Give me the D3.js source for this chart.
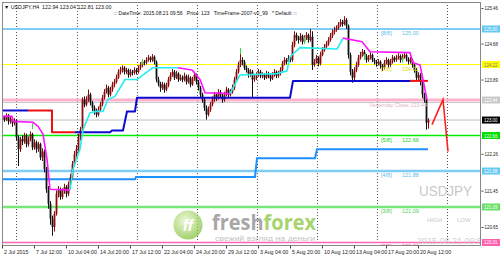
<!DOCTYPE html>
<html>
<head>
<meta charset="utf-8">
<title>USDJPY,H4</title>
<style>
  body{margin:0;background:#fff;}
  svg{display:block;font-family:"Liberation Sans",Arial,sans-serif;}
</style>
</head>
<body>
<svg id="chart" width="500" height="258"></svg>
<script src="https://d3js.org/d3.v7.min.js"></script>
<script>
// H4 bars, 2 Jul 2015 20:00 .. 21 Aug 2015 08:00
var opens = [
123.00,123.06,123.01,123.10,122.97,123.03,122.93,122.99,122.62,122.36,
122.58,122.53,122.66,122.47,122.58,122.69,122.40,122.51,122.36,122.47,
122.18,122.31,121.92,121.48,121.16,120.83,120.65,120.94,121.38,121.48,
121.31,121.44,121.53,121.38,121.59,121.75,122.03,122.25,122.36,122.62,
122.79,123.45,123.34,123.45,123.56,123.38,123.27,123.19,123.12,123.23,
123.34,123.49,123.62,123.71,123.56,123.67,123.78,123.84,123.93,124.06,
124.10,124.15,124.06,124.10,123.99,124.06,124.04,124.10,124.06,124.15,
124.21,124.28,124.26,124.32,124.37,124.32,124.39,124.28,123.89,123.80,
123.71,123.78,123.67,123.76,123.89,123.99,124.06,123.93,124.02,123.89,
123.93,123.89,123.97,123.84,123.93,123.78,123.89,123.99,123.84,123.71,
123.56,123.45,123.27,123.12,123.23,123.34,123.45,123.56,123.49,123.62,
123.54,123.45,123.56,123.67,123.56,123.62,123.71,123.89,124.06,124.21,
124.32,124.28,124.15,124.10,123.99,124.06,123.89,123.93,123.99,124.06,
123.97,123.99,123.93,124.02,123.97,123.91,123.99,124.06,123.97,124.02,
124.10,124.24,124.32,124.28,124.37,124.32,124.65,124.87,124.80,124.76,
124.85,124.72,124.80,124.87,124.76,124.83,124.21,124.28,124.37,124.24,
124.43,124.54,124.61,124.67,124.76,124.85,124.93,124.98,125.02,125.09,
125.15,125.11,125.20,125.07,124.43,124.06,123.93,124.10,124.21,124.37,
124.43,124.50,124.41,124.32,124.37,124.43,124.32,124.28,124.24,124.28,
124.19,124.15,124.26,124.32,124.21,124.28,124.37,124.32,124.37,124.41,
124.32,124.39,124.43,124.35,124.28,124.32,124.21,124.10,123.93,123.99,
123.84,123.56,123.45,122.94];
var highs = [
123.12,123.10,123.15,123.13,123.08,123.06,123.04,123.02,122.66,122.63,
122.66,122.72,122.70,122.64,122.75,122.72,122.58,122.55,122.52,122.50,
122.38,122.35,121.97,121.55,121.22,120.90,121.00,121.45,121.55,121.52,
121.50,121.60,121.57,121.65,121.82,122.10,122.32,122.45,122.70,122.85,
123.50,123.52,123.52,123.67,123.60,123.42,123.32,123.25,123.30,123.40,
123.55,123.68,123.78,123.75,123.73,123.84,123.90,124.00,124.12,124.17,
124.20,124.18,124.15,124.13,124.12,124.10,124.16,124.14,124.20,124.27,
124.33,124.32,124.38,124.43,124.40,124.45,124.42,124.31,123.95,123.84,
123.84,123.82,123.82,123.95,124.05,124.12,124.10,124.08,124.05,124.00,
123.98,124.04,124.00,124.00,123.96,123.95,124.06,124.02,123.88,123.75,
123.60,123.50,123.32,123.30,123.40,123.52,123.62,123.60,123.68,123.66,
123.58,123.62,123.73,123.70,123.68,123.78,123.95,124.12,124.28,124.54,
124.38,124.32,124.20,124.14,124.12,124.10,124.00,124.05,124.12,124.10,
124.05,124.03,124.08,124.06,124.01,124.05,124.12,124.09,124.08,124.16,
124.30,124.38,124.36,124.43,124.40,124.72,124.95,124.92,124.85,124.91,
124.88,124.86,124.93,124.90,125.00,124.95,124.34,124.43,124.40,124.50,
124.60,124.67,124.73,124.82,124.91,124.99,125.05,125.08,125.15,125.22,
125.20,125.28,125.24,125.10,124.48,124.12,124.16,124.28,124.43,124.50,
124.56,124.54,124.45,124.43,124.49,124.46,124.36,124.32,124.34,124.31,
124.23,124.32,124.38,124.35,124.34,124.43,124.40,124.43,124.47,124.44,
124.45,124.49,124.46,124.38,124.38,124.35,124.25,124.14,124.05,124.03,
123.88,123.60,123.48,123.04];
var lows = [
122.95,122.96,122.98,122.90,122.92,122.85,122.88,122.55,121.99,122.30,
122.45,122.48,122.40,122.42,122.53,122.34,122.35,122.28,122.30,122.12,
122.10,121.85,121.40,121.05,120.70,120.46,120.55,120.90,121.30,121.25,
121.26,121.38,121.30,121.33,121.55,121.70,121.98,122.18,122.30,122.55,
122.72,123.28,123.30,123.40,123.32,123.20,123.12,123.06,123.08,123.18,
123.30,123.45,123.58,123.50,123.52,123.62,123.72,123.80,123.90,124.00,
124.04,124.00,124.01,123.93,123.95,123.98,124.00,124.00,124.02,124.10,
124.16,124.20,124.22,124.28,124.27,124.28,124.22,123.83,123.74,123.62,
123.66,123.60,123.63,123.72,123.85,123.95,123.88,123.90,123.84,123.86,
123.83,123.85,123.78,123.80,123.72,123.75,123.86,123.78,123.65,123.50,
123.38,123.20,123.01,123.08,123.18,123.30,123.40,123.42,123.45,123.48,
123.38,123.40,123.52,123.50,123.52,123.58,123.66,123.85,124.02,124.16,
124.20,124.10,124.04,123.93,123.95,123.49,123.84,123.88,123.95,123.92,
123.92,123.88,123.90,123.92,123.85,123.88,123.95,123.92,123.93,123.98,
124.06,124.20,124.22,124.25,124.27,124.28,124.60,124.74,124.68,124.72,
124.66,124.68,124.76,124.70,124.72,124.10,124.17,124.24,124.18,124.20,
124.40,124.50,124.57,124.63,124.72,124.80,124.88,124.94,124.98,125.05,
125.05,125.08,125.00,124.35,123.98,123.82,123.88,124.05,124.17,124.33,
124.39,124.36,124.26,124.28,124.33,124.27,124.22,124.17,124.20,124.13,
124.08,124.11,124.22,124.15,124.17,124.24,124.27,124.28,124.33,124.26,
124.28,124.35,124.29,124.22,124.24,124.15,124.04,123.87,123.88,123.76,
123.48,123.38,122.79,122.81];
var closes = [
123.06,123.01,123.10,122.97,123.03,122.93,122.99,122.62,122.36,122.58,
122.53,122.66,122.47,122.58,122.69,122.40,122.51,122.36,122.47,122.18,
122.31,121.92,121.48,121.16,120.83,120.65,120.94,121.38,121.48,121.31,
121.44,121.53,121.38,121.59,121.75,122.03,122.25,122.36,122.62,122.79,
123.45,123.34,123.45,123.56,123.38,123.27,123.19,123.12,123.23,123.34,
123.49,123.62,123.71,123.56,123.67,123.78,123.84,123.93,124.06,124.10,
124.15,124.06,124.10,123.99,124.06,124.04,124.10,124.06,124.15,124.21,
124.28,124.26,124.32,124.37,124.32,124.39,124.28,123.89,123.80,123.71,
123.78,123.67,123.76,123.89,123.99,124.06,123.93,124.02,123.89,123.93,
123.89,123.97,123.84,123.93,123.78,123.89,123.99,123.84,123.71,123.56,
123.45,123.27,123.12,123.23,123.34,123.45,123.56,123.49,123.62,123.54,
123.45,123.56,123.67,123.56,123.62,123.71,123.89,124.06,124.21,124.32,
124.28,124.15,124.10,123.99,124.06,123.89,123.93,123.99,124.06,123.97,
123.99,123.93,124.02,123.97,123.91,123.99,124.06,123.97,124.02,124.10,
124.24,124.32,124.28,124.37,124.32,124.65,124.87,124.80,124.76,124.85,
124.72,124.80,124.87,124.76,124.83,124.21,124.28,124.37,124.24,124.43,
124.54,124.61,124.67,124.76,124.85,124.93,124.98,125.02,125.09,125.15,
125.11,125.20,125.07,124.43,124.06,123.93,124.10,124.21,124.37,124.43,
124.50,124.41,124.32,124.37,124.43,124.32,124.28,124.24,124.28,124.19,
124.15,124.26,124.32,124.21,124.28,124.37,124.32,124.37,124.41,124.32,
124.39,124.43,124.35,124.28,124.32,124.21,124.10,123.93,123.99,123.84,
123.56,123.45,122.94,123.00];

var dateBars = [0,16,32,48,64,80,96,112,128,144,160,176,192,208];
var dateLabels = ["2 Jul 2015","7 Jul 12:00","10 Jul 04:00","14 Jul 20:00","17 Jul 12:00","22 Jul 04:00",
  "24 Jul 20:00","29 Jul 12:00","3 Aug 04:00","5 Aug 20:00","10 Aug 12:00","13 Aug 04:00","17 Aug 20:00","20 Aug 12:00"];
var gridBars = [7,37.5,67.5,97.5,127.5,157.5,187.5];
var nowBar = 222.5;
var priceTicks = [125.46,124.68,123.89,122.26,121.45,120.65];

var murreyNames = ["[8/8]","[7/8]","[6/8]","[5/8]","[4/8]","[3/8]","[2/8]"];
var murreyLevels = [125.00,124.22,123.44,122.66,121.88,121.09,120.31];
var lastPrice = 123.00;
var yesterdayClose = 123.44;

// trailing stop line (u = blue, d = red)
var trailBars = [0,13,25,25,36.5,54,55,60.5,62.5,66.5,67.5,144,145.5,204,213];
var trailPrices = [123.21,123.21,123.21,122.73,122.73,122.73,122.77,122.77,123.19,123.19,123.49,123.49,123.86,123.86,123.86];
var trailTrend = "uddduuuuuuuuud";

// fast trend line (u = aqua, d = magenta)
var stopBars = [0.5,5,5.5,15.5,18,20.5,22.5,24,34,35.5,39,40.5,44,47.5,50.5,53,56.5,61.5,67.5,70.5,75.5,88,
  95,99,101.5,114,119,137.5,142.5,144,149,167.5,170.5,180,184,204,205.5,209,212.5];
var stopPrices = [123.08,123.08,122.97,122.95,122.86,122.69,122.14,121.48,121.46,121.92,122.36,122.79,123.16,123.19,
  123.19,123.45,123.52,123.89,123.89,123.99,124.15,124.15,124.10,123.89,123.60,123.58,123.99,124.02,124.08,124.39,
  124.59,124.56,124.80,124.72,124.50,124.48,124.26,124.21,123.45];
var stopTrend = "dddddddduuuuuuuuuuuuudddduuuuuuudddddd";

// lower band
var bandBars = [0.5,66.5,67,126.5,127.5,156.5,157.5,213];
var bandPrices = [121.70,121.70,121.75,121.75,122.16,122.16,122.36,122.36];

// projection
var fcBars = [215,220.5,223];
var fcPrices = [122.90,123.45,122.31];

// signal ticks
var sigBars = [15,70,119,151,181,200];
var sigHigh = [122.93,124.32,124.58,124.82,124.45,124.37];
var sigLow = [122.80,124.22,124.45,124.68,124.32,124.26];

// ---------------------------------------------------------------
var svg = d3.select("#chart");
var L = 2, R = 481, T = 2, B = 245;
var x = d3.scaleLinear().domain([0, 240]).range([2, 482]);
var y = d3.scaleLinear().domain([125.637, 120.255]).range([0, 245]);

var murreyColor = ["#7fcdf5","#ffff00","#ffb3cc","#00ee00","#7fcdf5","#77e877","#ff66b3"];
var murreyWidth = [2,1,3,1.5,2.5,2.5,1.5];
var murreyText = ["#5fbde8","#e0d800","#e8a0bb","#22cc22","#5fbde8","#55cc55","#ff55aa"];

svg.append("defs").append("clipPath").attr("id","plot")
  .append("rect").attr("x",L).attr("y",T).attr("width",R-L).attr("height",B-T);

var g = svg.append("g").attr("clip-path","url(#plot)");

// vertical grid
g.selectAll(".grid").data(gridBars.concat([nowBar])).enter().append("line")
  .attr("x1",function(d){return Math.round(x(d))+0.5}).attr("x2",function(d){return Math.round(x(d))+0.5})
  .attr("y1",T).attr("y2",B)
  .attr("stroke","#555").attr("stroke-width",1).attr("stroke-dasharray","1,2");

// murrey levels
g.selectAll(".mm").data(murreyLevels).enter().append("line")
  .attr("x1",L).attr("x2",R).attr("y1",function(d){return y(d)}).attr("y2",function(d){return y(d)})
  .attr("stroke",function(d,i){return murreyColor[i]})
  .attr("stroke-width",function(d,i){return murreyWidth[i]});

g.append("line").attr("x1",L).attr("x2",R).attr("y1",y(yesterdayClose)+2.5).attr("y2",y(yesterdayClose)+2.5)
  .attr("stroke","#c8ccd4").attr("stroke-width",1);
g.append("line").attr("x1",L).attr("x2",R).attr("y1",y(lastPrice)).attr("y2",y(lastPrice))
  .attr("stroke","#b8c0cc").attr("stroke-width",1);

// logo watermark
var grad = svg.select("defs").append("radialGradient").attr("id","ball").attr("cx","40%").attr("cy","35%").attr("r","70%");
grad.append("stop").attr("offset","0%").attr("stop-color","#e4f5c4");
grad.append("stop").attr("offset","100%").attr("stop-color","#7fbf3a");
var logo = g.append("g").attr("opacity",0.75);
logo.append("circle").attr("cx",188).attr("cy",225).attr("r",14.5).attr("fill","url(#ball)");
logo.append("text").attr("x",188).attr("y",231).attr("text-anchor","middle")
  .attr("font-size",16).attr("font-weight","bold").attr("font-style","italic").attr("fill","#fff").text("ff");
var ff = logo.append("text").attr("x",212).attr("y",230).attr("font-size",21).attr("font-weight","bold")
  .attr("font-family","'Open Sans','Liberation Sans',sans-serif").attr("textLength",104).attr("lengthAdjust","spacingAndGlyphs");
ff.append("tspan").attr("fill","#8a8a8a").text("fresh");
ff.append("tspan").attr("fill","#8cc63f").text("forex");
logo.append("text").attr("x",215).attr("y",241).attr("font-size",8).attr("fill","#b0b0b0")
  .attr("textLength",100).attr("lengthAdjust","spacingAndGlyphs").text("свежий взгляд на деньги");

// watermark texts
g.append("text").attr("x",419).attr("y",196).attr("font-size",14).attr("fill","#c8c8c8")
  .attr("textLength",53).attr("lengthAdjust","spacingAndGlyphs").text("USDJPY");
g.append("text").attr("x",427).attr("y",222).attr("font-size",6).attr("fill","#c8c8c8").text("HIGH");
g.append("text").attr("x",457).attr("y",222).attr("font-size",6).attr("fill","#c8c8c8").text("LOW");
g.append("text").attr("x",417).attr("y",243.5).attr("font-size",9.5).attr("fill","#d0d0d0")
  .attr("textLength",70).attr("lengthAdjust","spacingAndGlyphs").text("2015.08.21 09:56");

// lower band
g.append("path").datum(bandBars).attr("fill","none").attr("stroke","#1e90ff").attr("stroke-width",2)
  .attr("d",d3.line().x(function(d){return x(d)}).y(function(d,i){return y(bandPrices[i])}));

// candles
var idx = d3.range(closes.length);
var candle = g.selectAll(".c").data(idx).enter().append("g");
function cCol(i){ return closes[i] >= opens[i] ? "#8b0a0a" : "#111"; }
candle.append("line")
  .attr("x1",function(i){return x(i)+0.5}).attr("x2",function(i){return x(i)+0.5})
  .attr("y1",function(i){return y(highs[i])}).attr("y2",function(i){return y(lows[i])})
  .attr("stroke",cCol).attr("stroke-width",1);
candle.append("rect")
  .attr("x",function(i){return x(i)-0.4}).attr("width",1.8)
  .attr("y",function(i){return y(Math.max(opens[i],closes[i]))})
  .attr("height",function(i){return Math.max(0.8, Math.abs(y(opens[i])-y(closes[i])))})
  .attr("fill",cCol);

g.selectAll(".sig").data(sigBars).enter().append("line")
  .attr("x1",function(d){return x(d)+0.5}).attr("x2",function(d){return x(d)+0.5})
  .attr("y1",function(d,i){return y(sigHigh[i])}).attr("y2",function(d,i){return y(sigLow[i])})
  .attr("stroke","#33dd33").attr("stroke-width",1);

// segmented coloured lines
function drawRuns(bars, prices, trend, colors, width){
  var start = 0;
  for (var k = 1; k <= trend.length; k++){
    if (k === trend.length || trend[k] !== trend[start]){
      var pts = d3.range(start, k + 1);
      g.append("path").datum(pts).attr("fill","none")
        .attr("stroke",colors[trend[start]]).attr("stroke-width",width).attr("stroke-linejoin","round")
        .attr("d",d3.line().x(function(j){return x(bars[j])}).y(function(j){return y(prices[j])}));
      start = k;
    }
  }
}
drawRuns(trailBars, trailPrices, trailTrend, {u:"#0a0ad0", d:"#ee1111"}, 2);
drawRuns(stopBars, stopPrices, stopTrend, {u:"#22eeee", d:"#ff11ff"}, 1.6);

// projection
g.append("path").datum(fcBars).attr("fill","none").attr("stroke","#ff2020").attr("stroke-width",1.6)
  .attr("d",d3.line().x(function(d){return x(d)}).y(function(d,i){return y(fcPrices[i])}));

// murrey labels
var mmL = g.selectAll(".mml").data(murreyLevels).enter().append("g");
mmL.append("text").attr("x",381).attr("y",function(d){return y(d)+6})
  .attr("font-size",5.5).attr("fill",function(d,i){return murreyText[i]})
  .text(function(d,i){return i === 2 ? "" : murreyNames[i]});
mmL.append("text").attr("x",402).attr("y",function(d){return y(d)+6})
  .attr("font-size",5.5).attr("fill",function(d,i){return murreyText[i]})
  .text(function(d,i){return i === 2 ? "" : d.toFixed(2)});
g.append("text").attr("x",369).attr("y",y(yesterdayClose)+7).attr("font-size",5.5).attr("fill","#dcb4c4")
  .text("Yesterday Close " + yesterdayClose.toFixed(2));

// header
var last = closes.length - 1;
svg.append("text").attr("x",4).attr("y",8.5).attr("font-size",5.3).attr("fill","#111")
  .attr("xml:space","preserve")
  .text("\u25BC USDJPY,H4  " + opens[last].toFixed(2) + " " + highs[last].toFixed(2) + " " + lows[last].toFixed(2) + " " + closes[last].toFixed(2));
svg.append("text").attr("x",113).attr("y",15).attr("font-size",5.3).attr("fill","#111")
  .attr("xml:space","preserve")
  .attr("textLength",184).attr("lengthAdjust","spacingAndGlyphs")
  .text("::: DateTime: 2015.08.21 09:56   Price: 123   TimeFrame-2007-v0_99   * Default :::");

// frame
svg.append("rect").attr("x",L+0.5).attr("y",T+0.5).attr("width",R-L-1).attr("height",B-T)
  .attr("fill","none").attr("stroke","#888").attr("stroke-width",1);

// price axis
var ya = svg.append("g").attr("transform","translate(" + (R + 0.5) + ",0)")
  .call(d3.axisRight(y).tickValues(priceTicks).tickSize(2).tickPadding(1).tickFormat(d3.format(".2f")));
ya.select(".domain").remove();
ya.selectAll("text").attr("font-size",5).attr("fill","#222").attr("font-family","'Liberation Sans',sans-serif")
  .attr("textLength",13.5).attr("lengthAdjust","spacingAndGlyphs");
ya.selectAll("line").attr("stroke","#444");

var boxLevels = murreyLevels.concat([lastPrice]);
var boxFill = ["#66c8f5","#ffff00","#c8c8c8","#00e000","#66c8f5","#66e066","#ff5fb0","#000"];
var boxText = ["#fff","#777","#fff","#fff","#fff","#fff","#fff","#fff"];
var bx = svg.selectAll(".bx").data(boxLevels).enter().append("g");
bx.append("rect").attr("x",482).attr("width",18).attr("y",function(d){return y(d)-3.5}).attr("height",7)
  .attr("fill",function(d,i){return boxFill[i]});
bx.append("text").attr("x",484).attr("y",function(d){return y(d)+2}).attr("font-size",5)
  .attr("textLength",13.5).attr("lengthAdjust","spacingAndGlyphs")
  .attr("fill",function(d,i){return boxText[i]}).text(function(d){return d.toFixed(2)});

// date axis
var xa = svg.append("g").attr("transform","translate(0," + (B + 0.5) + ")")
  .call(d3.axisBottom(x).tickValues(dateBars).tickSize(3).tickFormat(function(d,i){return dateLabels[i]}));
xa.select(".domain").remove();
xa.selectAll("text").attr("font-size",5.3).attr("fill","#222").attr("text-anchor","start")
  .attr("x",1.5).attr("y",5).attr("font-family","'Liberation Sans',sans-serif");
xa.selectAll("line").attr("stroke","#444");
</script>
</body>
</html>
